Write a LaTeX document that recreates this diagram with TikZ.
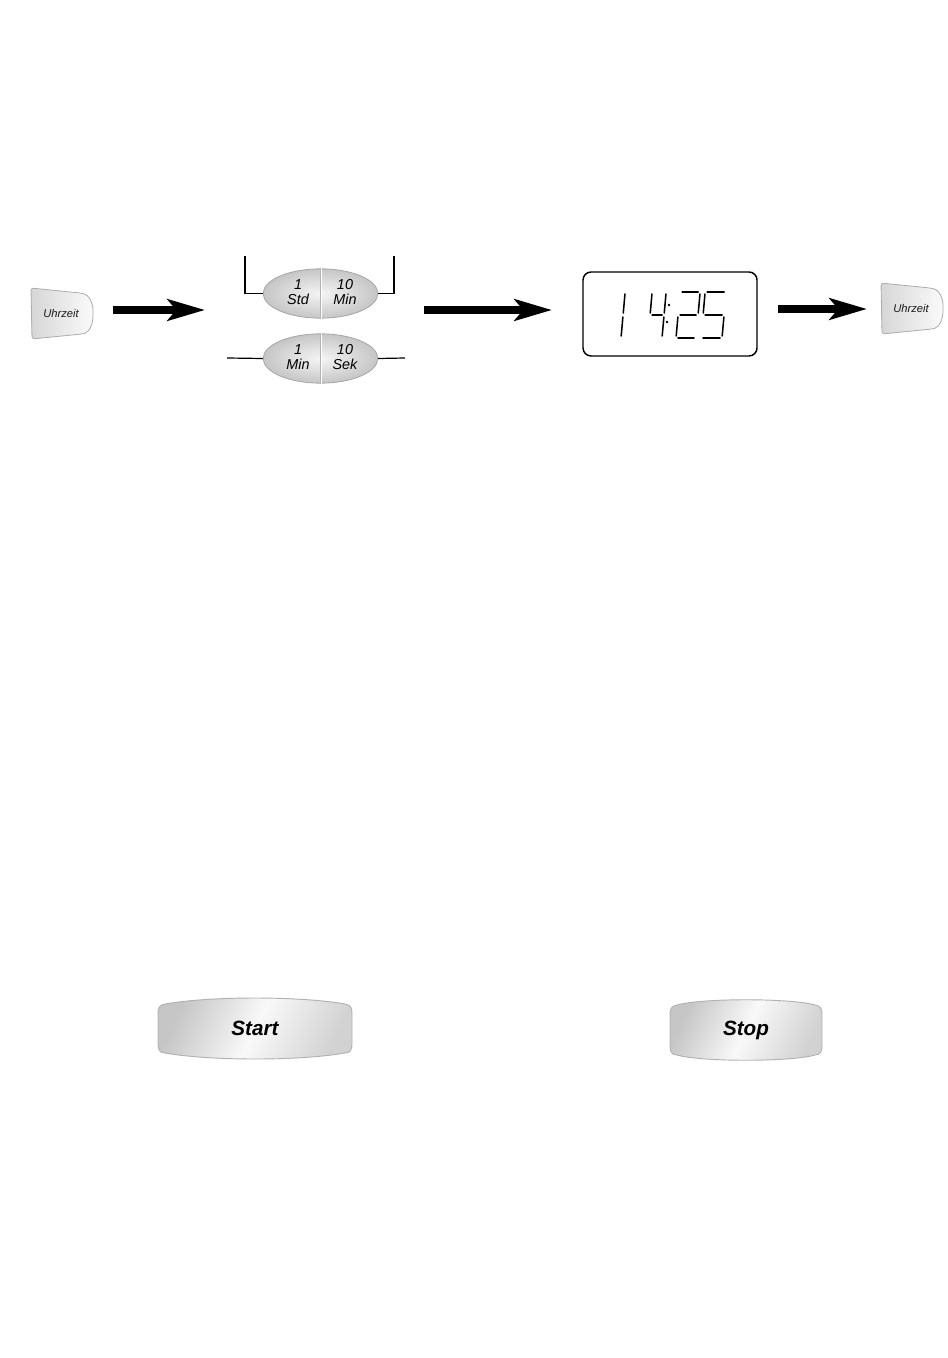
\documentclass[tikz,border=0pt]{standalone}
\usepackage{fontspec}
\setmainfont{Liberation Sans}
\usetikzlibrary{shapes.geometric,arrows.meta}
\tikzset{
  keycap/.style={draw=gray!65, line width=0.6pt, left color=gray!32, right color=gray!4},
  keytxt/.style={font=\fontsize{8.4}{9}\selectfont\itshape, text=black!90, inner sep=0pt},
  oval/.style={ellipse, draw=gray!70, line width=0.6pt, inner color=gray!8, outer color=gray!45, minimum width=86pt, minimum height=37pt, inner sep=0pt},
  ovaltxt/.style={font=\fontsize{10.8}{11.5}\selectfont\itshape, align=center, inner sep=0pt},
  thinline/.style={line width=0.9pt, black},
  bigarrow/.style={line width=6pt, -{Stealth[length=28pt, width=16pt, inset=6.5pt]}},
  lcdbox/.style={draw, line width=1.1pt, rounded corners=6pt, minimum width=130.5pt, minimum height=63pt, inner sep=0pt},
  lcd/.style={line width=1.15pt, line cap=round},
  capsule/.style={draw=gray!60, line width=0.7pt, left color=gray!45, right color=gray!35, middle color=gray!5, shading angle=65},
  captxt/.style={font=\fontsize{15.5}{17}\selectfont\bfseries\itshape, inner sep=0pt}
}
\newcommand\uhrshape[2]{%
  \begin{scope}[shift={(#1,#2)}]
    \path[keycap, rounded corners=2pt] (0,0) -- (49,5) .. controls (59,7) and (62,16) .. (62,25)
      .. controls (62,35) and (59,44) .. (51,46) -- (1,51) -- cycle;
  \end{scope}}
\newcommand\capsuleshape[6]{%
  \path[capsule] ({#1+7},{#3}) .. controls ({(#1+#2)/2-45},{#4-1}) and ({(#1+#2)/2+45},{#4-1}) .. ({#2-7},{#3})
    .. controls ({#2-1},{#3+1}) and ({#2},{#3+4}) .. ({#2},{#3+10})
    -- ({#2},{#5-10}) .. controls ({#2},{#5-4}) and ({#2-1},{#5}) .. ({#2-7},{#5})
    .. controls ({(#1+#2)/2+45},{#6+1}) and ({(#1+#2)/2-45},{#6+1}) .. ({#1+7},{#5})
    .. controls ({#1+1},{#5}) and ({#1},{#5-4}) .. ({#1},{#5-10})
    -- ({#1},{#3+10}) .. controls ({#1},{#3+4}) and ({#1+1},{#3+1}) .. cycle;}
\newcommand\sseg[6]{\draw[lcd] ({#1+#3+0.09*#4},{#2-#4}) -- ({#1+#5+0.09*#6},{#2-#6});}
\begin{document}
\begin{tikzpicture}[x=0.75pt,y=-0.75pt]
\useasboundingbox (0,0) rectangle (947,1358);

% left Uhrzeit key
\uhrshape{31}{288}
\node[keytxt] (uhr1) at (61,313) {Uhrzeit};

% arrow 1
\coordinate (a1s) at (113,310);
\coordinate (a1e) at (205,310);
\draw[bigarrow] (a1s) -- (a1e);

% ovals
\node[oval] (ov1) at (320.5,293.5) {};
\node[oval] (ov2) at (320.5,358.5) {};
\foreach \o in {ov1,ov2}{
  \draw[gray!60, line width=0.5pt] ([xshift=-0.5pt]\o.north) -- ([xshift=-0.5pt]\o.south);
  \draw[white, line width=0.8pt] ([xshift=0.4pt]\o.north) -- ([xshift=0.4pt]\o.south);
}
\node[ovaltxt] (t1) at (298,292) {1\\Std};
\node[ovaltxt] (t2) at (345,292) {10\\Min};
\node[ovaltxt] (t3) at (298,357) {1\\Min};
\node[ovaltxt] (t4) at (345,357) {10\\Sek};

\coordinate (brl) at (245,256);
\coordinate (brr) at (394,256);
\draw[thinline] (ov1.west) -| (brl);
\draw[thinline] (ov1.east) -| (brr);
\coordinate (ll) at (227,358);
\coordinate (lr) at (405,358);
\draw[thinline] (ll) -- (ov2.west);
\draw[thinline] (ov2.east) -- (lr);

% arrow 2
\coordinate (a2s) at (424,310);
\coordinate (a2e) at (552,310);
\draw[bigarrow] (a2s) -- (a2e);

% display
\node[lcdbox] (disp) at (670,314) {};
% digit 1
\sseg{601}{338}{20}{44}{20}{25}
\sseg{601}{338}{20}{21}{20}{2}
% digit 4
\sseg{648}{338}{0}{44}{0}{25}
\sseg{648}{338}{2}{23}{12}{23}
\sseg{648}{338}{14}{44}{14}{25}
\sseg{648}{338}{14}{21}{14}{2}
% colon
\fill (669,305) circle (1.4);
\fill (667,322) circle (1.4);
% digit 2
\sseg{676}{338}{2}{46}{18}{46}
\sseg{676}{338}{20}{44}{20}{25}
\sseg{676}{338}{2}{23}{18}{23}
\sseg{676}{338}{0}{21}{0}{2}
\sseg{676}{338}{2}{0}{18}{0}
% digit 5
\sseg{701}{338}{2}{46}{19}{46}
\sseg{701}{338}{0}{44}{0}{25}
\sseg{701}{338}{2}{23}{19}{23}
\sseg{701}{338}{21}{21}{21}{2}
\sseg{701}{338}{2}{0}{19}{0}

% arrow 3
\coordinate (a3s) at (778,309);
\coordinate (a3e) at (867,309);
\draw[bigarrow] (a3s) -- (a3e);

% right Uhrzeit key
\uhrshape{881}{283}
\node[keytxt] (uhr2) at (911,308) {Uhrzeit};

% Start / Stop
\capsuleshape{158}{352}{1004}{997}{1053}{1060}
\node[captxt] (start) at (255,1028) {Start};
\capsuleshape{670}{822}{1005}{999}{1055}{1061}
\node[captxt] (stop) at (746,1030) {Stop};
\end{tikzpicture}
\end{document}
